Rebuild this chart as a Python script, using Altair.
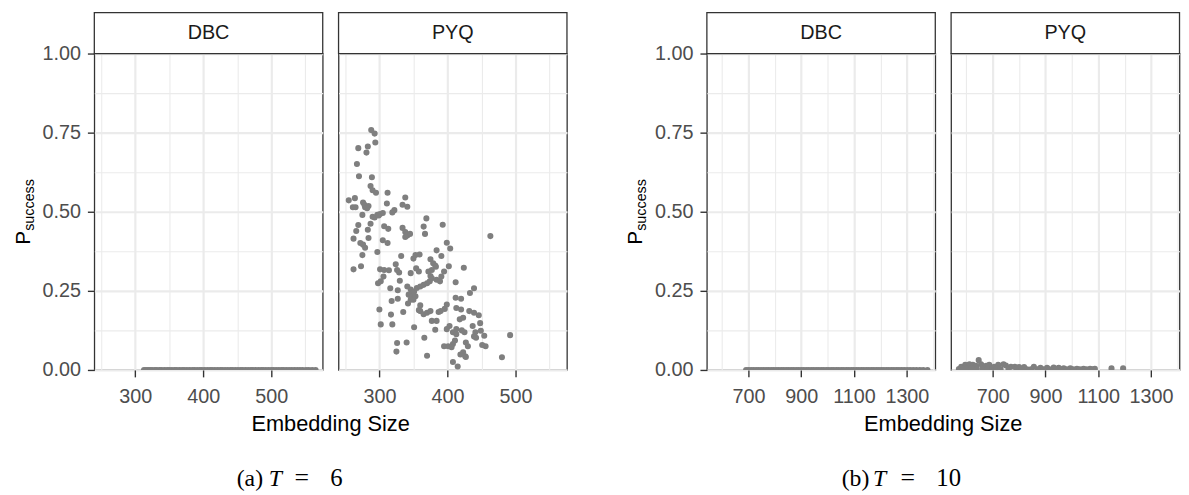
import altair as alt
import pandas as pd

SANS = "Liberation Sans"
SERIF = "Liberation Serif"
METHODS = ["DBC", "PYQ"]

# ---------------- (a) T = 6 ----------------
a_dbc_x = [313, 316, 319, 322, 325, 329, 332, 336, 339, 343, 347, 350, 354, 358, 361, 365, 369,
           372, 376, 380, 384, 387, 391, 395, 398, 402, 406, 410, 413, 417, 421, 425, 428, 432,
           436, 440, 443, 447, 451, 455, 458, 462, 466, 470, 473, 477, 481, 485, 488, 492, 496,
           500, 503, 507, 511, 515, 518, 522, 526, 530, 534, 538, 542, 546, 551, 555, 560, 565]
a_dbc_y = [0.0] * len(a_dbc_x)

a_pyq_x = [288, 293, 294, 269, 283, 281, 267, 270, 289, 287, 290, 295, 312, 338, 341, 334, 255,
           264, 261, 265, 276, 279, 284, 278, 282, 311, 322, 319, 275, 293, 297, 301, 305, 299,
           290, 369, 365, 367, 393, 269, 287, 283, 307, 313, 266, 334, 338, 341, 345, 338, 463,
           262, 284, 272, 305, 312, 276, 279, 399, 404, 384, 391, 297, 275, 332, 353, 359, 350,
           375, 379, 382, 402, 262, 273, 301, 307, 314, 324, 326, 329, 346, 354, 358, 372, 377,
           383, 395, 391, 375, 424, 298, 302, 306, 316, 330, 341, 346, 348, 351, 355, 360, 365,
           370, 374, 377, 384, 389, 412, 433, 439, 327, 343, 347, 350, 353, 346, 342, 318, 327,
           360, 360, 365, 370, 375, 387, 390, 396, 399, 412, 420, 413, 420, 432, 439, 446, 300,
           317, 335, 358, 302, 319, 351, 366, 377, 382, 384, 399, 403, 408, 413, 418, 423, 413,
           421, 425, 437, 448, 441, 449, 454, 439, 442, 456, 451, 326, 340, 325, 395, 401, 408,
           411, 406, 427, 430, 423, 426, 419, 427, 370, 408, 415, 492, 480]
a_pyq_y = [0.758, 0.747, 0.719, 0.701, 0.706, 0.687, 0.651, 0.612, 0.609, 0.581, 0.568, 0.560,
           0.560, 0.545, 0.516, 0.522, 0.536, 0.543, 0.514, 0.514, 0.529, 0.514, 0.518, 0.522,
           0.511, 0.526, 0.505, 0.498, 0.490, 0.482, 0.490, 0.493, 0.496, 0.488, 0.484, 0.479,
           0.453, 0.430, 0.459, 0.458, 0.462, 0.443, 0.454, 0.446, 0.439, 0.449, 0.436, 0.425,
           0.430, 0.420, 0.423, 0.415, 0.417, 0.401, 0.410, 0.401, 0.396, 0.386, 0.402, 0.384,
           0.378, 0.360, 0.373, 0.363, 0.360, 0.363, 0.365, 0.352, 0.350, 0.337, 0.330, 0.328,
           0.318, 0.328, 0.318, 0.316, 0.315, 0.334, 0.316, 0.308, 0.306, 0.321, 0.311, 0.311,
           0.316, 0.326, 0.311, 0.295, 0.297, 0.323, 0.274, 0.280, 0.295, 0.258, 0.282, 0.264,
           0.254, 0.243, 0.248, 0.259, 0.264, 0.269, 0.274, 0.280, 0.290, 0.285, 0.280, 0.277,
           0.243, 0.258, 0.252, 0.238, 0.231, 0.222, 0.233, 0.222, 0.210, 0.218, 0.225, 0.204,
           0.186, 0.176, 0.181, 0.186, 0.183, 0.186, 0.193, 0.207, 0.228, 0.225, 0.196, 0.191,
           0.186, 0.181, 0.173, 0.191, 0.175, 0.183, 0.189, 0.144, 0.144, 0.135, 0.102, 0.155,
           0.127, 0.155, 0.129, 0.139, 0.119, 0.129, 0.160, 0.165, 0.113, 0.125, 0.119, 0.139,
           0.148, 0.119, 0.124, 0.108, 0.106, 0.102, 0.075, 0.079, 0.085, 0.087, 0.058, 0.075,
           0.075, 0.082, 0.093, 0.072, 0.087, 0.075, 0.056, 0.043, 0.049, 0.041, 0.045, 0.025,
           0.011, 0.110, 0.040]

# ---------------- (b) T = 10 ----------------
b_dbc_x = [691, 700, 710, 719, 729, 738, 748, 757, 767, 776, 786, 795, 805, 814, 824, 833, 843,
           852, 862, 871, 881, 890, 900, 909, 919, 928, 938, 947, 957, 966, 976, 985, 995, 1004,
           1014, 1023, 1033, 1042, 1052, 1061, 1071, 1080, 1090, 1099, 1109, 1118, 1128, 1137,
           1147, 1156, 1166, 1175, 1185, 1194, 1204, 1213, 1223, 1232, 1242, 1251, 1261, 1270,
           1280, 1290, 1301, 1312, 1324, 1336, 1349, 1362, 1378]
b_dbc_y = [0.0] * len(b_dbc_x)

b_pyq_x = [581, 596, 612, 625, 637, 647, 656, 675, 687, 706, 721, 741, 750, 769, 784, 800, 819,
           856, 881, 906, 931, 950, 969, 994, 1019, 1044, 1069, 1087, 1150, 1194,
           572, 590, 605, 620, 640, 662, 680, 698, 714, 730, 760, 790, 810, 830, 845, 870, 892,
           915, 940, 960, 980, 1005, 1030, 1055, 1078]
b_pyq_y = [0.010, 0.016, 0.018, 0.016, 0.013, 0.031, 0.018, 0.013, 0.016, 0.010, 0.016, 0.018,
           0.014, 0.010, 0.010, 0.009, 0.009, 0.010, 0.007, 0.007, 0.008, 0.007, 0.005, 0.005,
           0.004, 0.004, 0.004, 0.004, 0.005, 0.005,
           0.003, 0.004, 0.006, 0.005, 0.004, 0.006, 0.004, 0.003, 0.004, 0.003, 0.003, 0.003,
           0.002, 0.002, 0.002, 0.002, 0.002, 0.002, 0.002, 0.002, 0.002, 0.002, 0.002, 0.002,
           0.002]

# ---------------- axes ----------------
y_major = [0, 0.25, 0.5, 0.75, 1]
y_minor = [0.125, 0.375, 0.625, 0.875]
a_x_major = [300, 400, 500]
a_x_minor = [250, 350, 450, 550]
b_x_major = [700, 900, 1100, 1300]
b_x_minor = [600, 800, 1000, 1200, 1400]
a_x_domain = [240, 575.5]
b_x_domain = [542.5, 1407.6]

x_title = "Embedding Size"
caption_a = ["(a)", "T", "=", "6"]
caption_b = ["(b)", "T", "=", "10"]

W, H = 231, 320
GAP = 16
FIG_GAP = 55.5
GRID = "#EBEBEB"
DARK = "#333333"


def major_test(majors):
    return "indexof([" + ",".join(str(v) for v in majors) + "], datum.value) >= 0"


def x_axis(majors, minors):
    t = major_test(majors)
    return alt.Axis(values=sorted(majors + minors), title=None, format="d",
                    labelExpr=f"({t}) ? datum.label : ''",
                    grid=True, gridColor=GRID,
                    gridWidth={"condition": {"test": t, "value": 2.2}, "value": 1.1},
                    ticks=True, tickSize=7, tickWidth=1.4,
                    tickColor={"condition": {"test": t, "value": DARK}, "value": "transparent"},
                    domain=False, labelFont=SANS, labelFontSize=20, labelColor="#4D4D4D",
                    labelPadding=10, labelFlush=False, labelOverlap=False, labelBound=False)


def y_axis(show):
    t = major_test(y_major)
    common = dict(values=sorted(y_major + y_minor), title=None, grid=True, gridColor=GRID,
                  gridWidth={"condition": {"test": t, "value": 2.2}, "value": 1.1},
                  domain=False)
    if show:
        return alt.Axis(format=".2f", labelExpr=f"({t}) ? datum.label : ''",
                        ticks=True, tickSize=7, tickWidth=1.4,
                        tickColor={"condition": {"test": t, "value": DARK}, "value": "transparent"},
                        labelFont=SANS, labelFontSize=20, labelColor="#4D4D4D",
                        labelPadding=7, labelFlush=False, labelOverlap=False, labelBound=False,
                        **common)
    return alt.Axis(labels=False, ticks=False, **common)


def text_layer(txt, x, y, size, font=SANS, color="black", align="center",
               baseline="alphabetic", angle=0, style="normal"):
    one = pd.DataFrame({"k": [0]})
    kw = dict(fontSize=size, font=font, color=color, align=align, baseline=baseline,
              fontStyle=style)
    if angle:
        kw["angle"] = angle
    return alt.Chart(one).mark_text(**kw).encode(
        x=alt.value(x), y=alt.value(y), text=alt.value(txt))


def panel(xs, ys, method, xdom, majors, minors, first, caption):
    df = pd.DataFrame({"size": xs, "p": ys})
    pts = alt.Chart(df).mark_circle(size=38, color="#7F7F7F", opacity=1, clip=True).encode(
        x=alt.X("size:Q", scale=alt.Scale(domain=xdom, nice=False, zero=False),
                axis=x_axis(majors, minors)),
        y=alt.Y("p:Q", scale=alt.Scale(domain=[0, 1], nice=False, zero=True),
                axis=y_axis(first)),
    )
    sdf = pd.DataFrame({"method": [method]})
    strip = alt.Chart(sdf).mark_rect(fill="white", stroke=DARK, strokeWidth=1.3).encode(
        x=alt.value(0), x2=alt.value(W), y=alt.value(-41.4), y2=alt.value(0))
    stext = alt.Chart(sdf).mark_text(fontSize=20, font=SANS, color="#1A1A1A",
                                     align="center", baseline="middle").encode(
        x=alt.value(W / 2), y=alt.value(-20.7), text="method:N")
    layers = [pts, strip, stext]
    if first:
        layers += [
            text_layer("P", -65.5, 193.3, 21, align="left", angle=270),
            text_layer("success", -61.5, 179.3, 14.5, align="left", angle=270),
            text_layer(x_title, W + GAP / 2, 381.3, 22),
        ]
        cx = caption["x"]
        layers += [
            text_layer(caption["parts"][0], cx[0], 437.0, 24, font=SERIF, align="left"),
            text_layer(caption["parts"][1], cx[1], 437.0, 24, font=SERIF, align="left",
                       style="italic"),
            text_layer(caption["parts"][2], cx[2], 437.5, 26, font=SERIF, align="left"),
            text_layer(caption["parts"][3], cx[3], 437.0, 25, font=SERIF, align="left"),
        ]
    return alt.layer(*layers).properties(width=W, height=H)


cap_a = {"parts": caption_a, "x": [144, 176.4, 202.4, 238.7]}
cap_b = {"parts": caption_b, "x": [136.3, 168, 195.7, 232.0]}

fig_a = alt.hconcat(
    panel(a_dbc_x, a_dbc_y, METHODS[0], a_x_domain, a_x_major, a_x_minor, True, cap_a),
    panel(a_pyq_x, a_pyq_y, METHODS[1], a_x_domain, a_x_major, a_x_minor, False, cap_a),
    spacing=GAP, bounds="flush")
fig_b = alt.hconcat(
    panel(b_dbc_x, b_dbc_y, METHODS[0], b_x_domain, b_x_major, b_x_minor, True, cap_b),
    panel(b_pyq_x, b_pyq_y, METHODS[1], b_x_domain, b_x_major, b_x_minor, False, cap_b),
    spacing=GAP, bounds="flush")

chart = alt.hconcat(fig_a, fig_b, spacing=FIG_GAP).properties(
    padding={"left": 3.3, "top": 0.3, "right": 0, "bottom": 0}, background="white"
).configure_view(stroke=DARK, strokeWidth=1.3)

chart.save("out.html", embed_options={"renderer": "svg", "actions": False})
